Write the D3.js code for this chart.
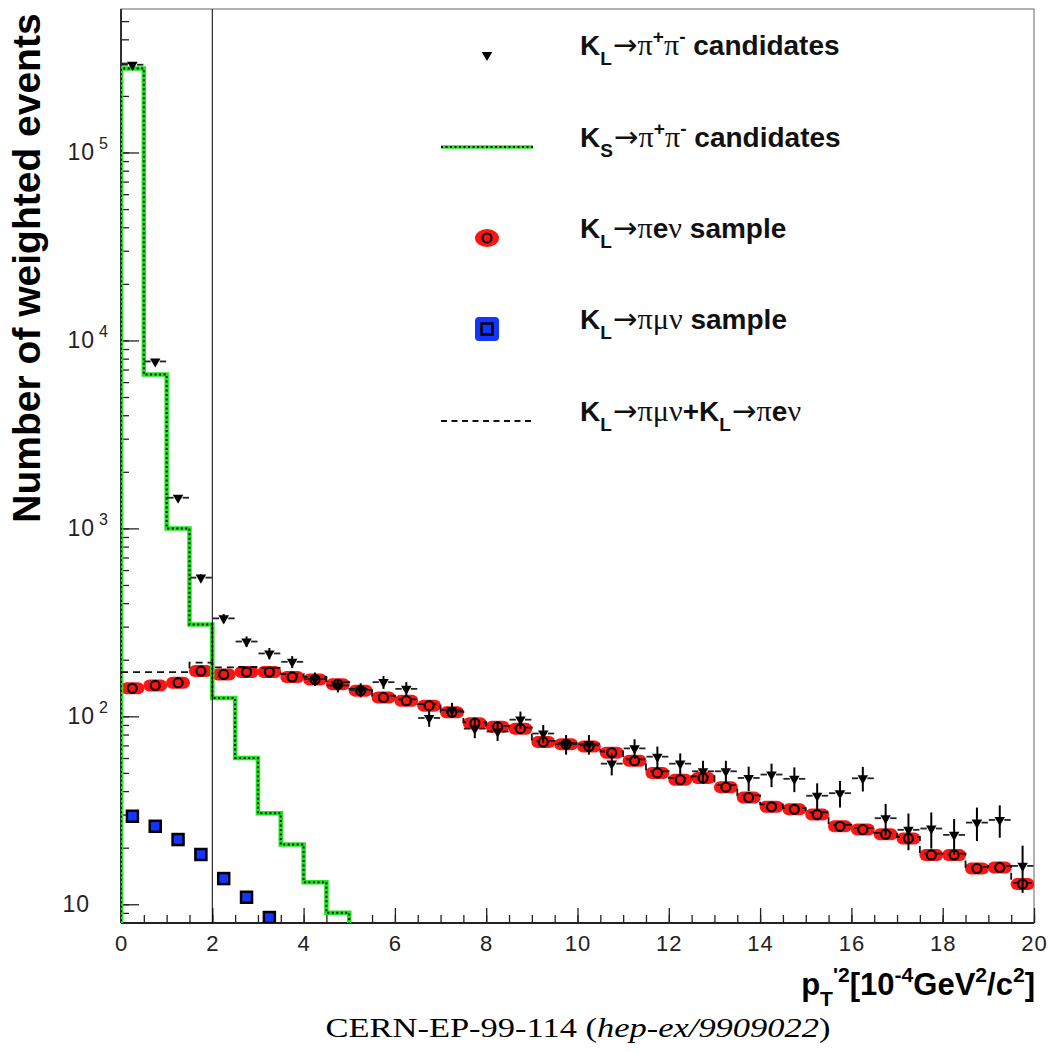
<!DOCTYPE html>
<html>
<head>
<meta charset="utf-8">
<script src="https://cdn.jsdelivr.net/npm/d3@7"></script>
<style>
body{margin:0;background:#fff}
svg{display:block}
text{white-space:pre}
</style>
</head>
<body>
<div id="root"></div>
<script>
// bin centres of the pT'^2 histogram, 0.5 wide bins from 0 to 20
const binCenters = [0.25,0.75,1.25,1.75,2.25,2.75,3.25,3.75,4.25,4.75,
    5.25,5.75,6.25,6.75,7.25,7.75,8.25,8.75,9.25,9.75,
    10.25,10.75,11.25,11.75,12.25,12.75,13.25,13.75,14.25,14.75,
    15.25,15.75,16.25,16.75,17.25,17.75,18.25,18.75,19.25,19.75]

// KL -> pi+ pi- candidates (triangles) and their errors
const klPiPi = [293000,7730,1456,547,332,250,216,195,158,146,
    138,152,140,98,108,86,83,96,81,71,
    71,56,67.5,61,56,51,51,47,49,46.5,
    37.8,39,46.8,28.7,24.9,25.3,23.4,27.2,28.1,16.0]
const klPiPiErr = [540,90,38,23,18,16,15,14,13,12,
    12,12,12,10,10,9.5,9,10,9,8.5,
    8.5,7.5,8,8,7.5,7,7,7,7,7,
    6.2,6.3,7,5.5,5.5,5.5,5,5.5,5.5,4.5]

// KL -> pi e nu sample (red)
const klPiENu = [141,146,151,174,167,172,172,162,157,148,
    137,126,121,114,105,92,88,86,73,71,
    69,64,58,50,46,47,42,37,33,32,
    30,26,25,23.6,22.4,18.3,18.3,15.5,15.7,12.8]

// KL -> pi mu nu sample (blue), only the visible bins
const klPiMuNu = [29.4,26,22.1,18.4,13.7,10.9,8.5]

// KL -> pi mu nu + KL -> pi e nu (dashed histogram)
const klSum = [172,172,172,193,182,183,181,168,162,152,
    140,129,123,116,106,93,89,87,74,72,
    70,65,59,51,47,48,43,38,34,32.5,
    30.8,26.5,25.5,24,22.8,18.6,18.6,15.8,16,13]

// KS -> pi+ pi- candidates (green histogram), bin edges and contents
const ksEdges = [0,0.5,1,1.5,2,2.5,3,3.5,4,4.5,5]
const ksPiPi = [280000,6580,1000,308,125,60,30.5,20.8,13.1,9.0]

const xTickLabels = [0,2,4,6,8,10,12,14,16,18,20]
const yMajorTicks = [10,100,1000,10000,100000]
const yTickExps = ["","2","3","4","5"]

const legendLabels = [
    [{t:"K"},{t:"L",sub:1},{t:"\u2192",arr:1},{t:"\u03c0",sym:1},{t:"+",sup:1},{t:"\u03c0",sym:1},{t:"-",sup:1},{t:" candidates"}],
    [{t:"K"},{t:"S",sub:1},{t:"\u2192",arr:1},{t:"\u03c0",sym:1},{t:"+",sup:1},{t:"\u03c0",sym:1},{t:"-",sup:1},{t:" candidates"}],
    [{t:"K"},{t:"L",sub:1},{t:"\u2192",arr:1},{t:"\u03c0",sym:1},{t:"e"},{t:"\u03bd",sym:1},{t:" sample"}],
    [{t:"K"},{t:"L",sub:1},{t:"\u2192",arr:1},{t:"\u03c0\u03bc\u03bd",sym:1},{t:" sample"}],
    [{t:"K"},{t:"L",sub:1},{t:"\u2192",arr:1},{t:"\u03c0\u03bc\u03bd",sym:1},{t:"+K"},{t:"L",sub:1},{t:"\u2192",arr:1},{t:"\u03c0",sym:1},{t:"e"},{t:"\u03bd",sym:1}]
]
const xTitle = [{t:"p"},{t:"T",sub:1},{t:"'2",sup:1},{t:"[10"},{t:"-4",sup:1},{t:"GeV"},{t:"2",sup:1},{t:"/c"},{t:"2",sup:1},{t:"]"}]

const sans = "'Liberation Sans', Arial, Helvetica, sans-serif"
const serif = "'Liberation Serif', 'Times New Roman', serif"
const green = "#1ee61e", red = "#ff1414", blue = "#1434ff"

const W = 1051, H = 1052
const m = {left:121, right:1034, top:9, bottom:923}

const svg = d3.select("#root").append("svg")
    .attr("width",W).attr("height",H)
    .style("font-family",sans)

const x = d3.scaleLinear().domain([0,20]).range([m.left,m.right])
const y = d3.scaleLog().domain([7.95,5.8e5]).range([m.bottom,m.top])

svg.append("clipPath").attr("id","plotclip")
    .append("rect")
    .attr("x",m.left).attr("y",m.top)
    .attr("width",m.right-m.left).attr("height",m.bottom-m.top)

// frame
svg.append("rect")
    .attr("x",m.left).attr("y",m.top)
    .attr("width",m.right-m.left).attr("height",m.bottom-m.top)
    .attr("fill","none").attr("stroke","#666").attr("stroke-width",1)

// y axis ticks (inside the frame)
const yMinorAxis = d3.axisRight(y).tickValues(y.ticks()).tickSize(8).tickFormat("")
const yMajorAxis = d3.axisRight(y).tickValues(yMajorTicks).tickSize(18).tickFormat("")
svg.append("g").attr("transform",`translate(${m.left},0)`).call(yMinorAxis)
svg.append("g").attr("transform",`translate(${m.left},0)`).call(yMajorAxis)

// x axis ticks (inside the frame)
const xMinorAxis = d3.axisTop(x).tickValues(x.ticks(40)).tickSize(8).tickFormat("")
const xMajorAxis = d3.axisTop(x).tickValues(xTickLabels).tickSize(15).tickFormat("")
svg.append("g").attr("transform",`translate(0,${m.bottom})`).call(xMinorAxis)
svg.append("g").attr("transform",`translate(0,${m.bottom})`).call(xMajorAxis)
svg.selectAll(".domain").remove()
svg.selectAll(".tick line").attr("stroke","#222").attr("stroke-width",1.3)

// x tick labels
const xLabelAxis = d3.axisBottom(x).tickValues(xTickLabels).tickSize(0).tickPadding(12)
const xl = svg.append("g").attr("transform",`translate(0,${m.bottom})`).call(xLabelAxis)
xl.select(".domain").remove()
xl.selectAll("text").attr("font-size",22).attr("font-family",sans)
    .attr("fill","#222").attr("letter-spacing",1)

// left and bottom axis lines
svg.append("line").attr("x1",m.left).attr("x2",m.left).attr("y1",m.top).attr("y2",m.bottom)
    .attr("stroke","#222").attr("stroke-width",1.8)
svg.append("line").attr("x1",m.left).attr("x2",m.right).attr("y1",m.bottom).attr("y2",m.bottom)
    .attr("stroke","#222").attr("stroke-width",1.8)

// y tick labels
yMajorTicks.forEach((v,i) => {
    const t = svg.append("text")
        .attr("x", yTickExps[i] ? 108 : 90)
        .attr("y", y(v) + 8)
        .attr("text-anchor","end")
        .attr("font-size",23).attr("fill","#222")
    t.append("tspan").attr("letter-spacing",1).text("10")
    if (yTickExps[i]) {
        t.append("tspan").attr("dx",4).attr("dy",-11).attr("font-size",16).text(yTickExps[i])
    }
})

function richText(sel, parts, size) {
    let cur = 0
    parts.forEach(p => {
        const shift = p.sub ? size*0.36 : (p.sup ? -size*0.42 : 0)
        const ts = sel.append("tspan")
            .attr("dy", shift-cur)
            .attr("font-size", (p.sub||p.sup) ? size*0.68 : size)
            .text(p.t)
        if (p.sym) ts.attr("font-family",serif).attr("font-weight","normal").attr("font-size",size*1.08)
        if (p.arr) ts.attr("font-family","'DejaVu Sans', sans-serif").attr("font-weight","normal")
            .attr("font-size",size*1.05).attr("dx",1)
        cur = shift
    })
}

// y title
svg.append("text")
    .attr("transform","translate(40,268) rotate(-90)")
    .attr("text-anchor","middle")
    .attr("font-size",39).attr("font-weight","bold")
    .text("Number of weighted events")

// x title
const xt = svg.append("text")
    .attr("x",1035).attr("y",995)
    .attr("text-anchor","end")
    .attr("font-weight","bold")
    .attr("font-size",31)
richText(xt, xTitle, 31)

// caption
const cap = svg.append("text")
    .attr("x",578).attr("y",1037)
    .attr("text-anchor","middle")
    .attr("font-family",serif).attr("font-size",28)
    .attr("textLength",505).attr("lengthAdjust","spacingAndGlyphs")
cap.append("tspan").text("CERN-EP-99-114 (")
cap.append("tspan").attr("font-style","italic").text("hep-ex/9909022")
cap.append("tspan").text(")")

// data layer
const plot = svg.append("g").attr("clip-path","url(#plotclip)")

const stepLine = d3.line().x(d => x(d.x)).y(d => y(d.v)).curve(d3.curveStepAfter)

// red KL -> pi e nu band and markers
function redRing(g, cx, cy) {
    g.append("circle").attr("cx",cx).attr("cy",cy).attr("r",4.5)
        .attr("fill",red).attr("stroke","#000").attr("stroke-width",2.2)
}
plot.append("g").selectAll("line").data(klPiENu).join("line")
    .attr("x1",(d,i) => x(binCenters[i]-0.13))
    .attr("x2",(d,i) => x(binCenters[i]+0.13))
    .attr("y1",d => y(d)).attr("y2",d => y(d))
    .attr("stroke",red).attr("stroke-width",12).attr("stroke-linecap","round")

// blue KL -> pi mu nu squares
function blueSquare(g, cx, cy) {
    g.append("rect").attr("x",cx-5.5).attr("y",cy-5.5).attr("width",11).attr("height",11)
        .attr("fill",blue).attr("stroke","#000").attr("stroke-width",2.5)
}
const blueG = plot.append("g")
klPiMuNu.forEach((v,i) => blueSquare(blueG, x(binCenters[i]), y(v)))

// green KS histogram with dotted black overlay
const ksPts = [{x:ksEdges[0], v:1}]
    .concat(ksPiPi.map((v,i) => ({x:ksEdges[i], v:v})))
    .concat([{x:ksEdges[ksEdges.length-1], v:ksPiPi[ksPiPi.length-1]}, {x:ksEdges[ksEdges.length-1], v:1}])
plot.append("path").attr("d",stepLine(ksPts))
    .attr("fill","none").attr("stroke",green).attr("stroke-width",4.5)
plot.append("path").attr("d",stepLine(ksPts))
    .attr("fill","none").attr("stroke","#111").attr("stroke-width",2)
    .attr("stroke-dasharray","2,2.5")

// dashed sum histogram
const sumPts = klSum.map((v,i) => ({x:binCenters[i]-0.25, v:v}))
    .concat([{x:binCenters[binCenters.length-1]+0.25, v:klSum[klSum.length-1]}])
plot.append("path").attr("d",stepLine(sumPts))
    .attr("fill","none").attr("stroke","#111").attr("stroke-width",1.8)
    .attr("stroke-dasharray","7,5")

// red rings on top
const ringG = plot.append("g")
klPiENu.forEach((v,i) => redRing(ringG, x(binCenters[i]), y(v)))

// KL -> pi+ pi- triangles with error bars
const tri = d3.symbol(d3.symbolTriangle, 48)
function triMarker(g, cx, cy) {
    g.append("path").attr("d",tri()).attr("fill","#000")
        .attr("transform",`translate(${cx},${cy}) rotate(180)`)
}
const triG = plot.append("g")
klPiPi.forEach((v,i) => {
    const c = binCenters[i]
    triG.append("line").attr("x1",x(c)).attr("x2",x(c))
        .attr("y1",y(v-klPiPiErr[i])).attr("y2",y(v+klPiPiErr[i]))
        .attr("stroke","#000").attr("stroke-width",2)
    ;[[c-0.24,c-0.1],[c+0.1,c+0.24]].forEach(s => {
        triG.append("line").attr("x1",x(s[0])).attr("x2",x(s[1]))
            .attr("y1",y(v)).attr("y2",y(v))
            .attr("stroke","#222").attr("stroke-width",1.8)
    })
    triMarker(triG, x(c), y(v))
})

// cut line at pT'^2 = 2
svg.append("line").attr("x1",x(2)).attr("x2",x(2)).attr("y1",m.top).attr("y2",m.bottom)
    .attr("stroke","#000").attr("stroke-width",1)

// legend
const leg = svg.append("g")
const legRows = [55,147,238,329,421]
const mx = 487
triMarker(leg, mx, legRows[0])
leg.append("line").attr("x1",441).attr("x2",533).attr("y1",legRows[1]).attr("y2",legRows[1])
    .attr("stroke",green).attr("stroke-width",3.5)
leg.append("line").attr("x1",441).attr("x2",533).attr("y1",legRows[1]).attr("y2",legRows[1])
    .attr("stroke","#111").attr("stroke-width",1.8).attr("stroke-dasharray","2,2.5")
leg.append("ellipse").attr("cx",mx).attr("cy",legRows[2]).attr("rx",12).attr("ry",9).attr("fill",red)
redRing(leg, mx, legRows[2])
leg.append("rect").attr("x",mx-12).attr("y",legRows[3]-12).attr("width",24).attr("height",24)
    .attr("rx",4).attr("fill",blue)
blueSquare(leg, mx, legRows[3])
leg.append("line").attr("x1",441).attr("x2",533).attr("y1",legRows[4]).attr("y2",legRows[4])
    .attr("stroke","#111").attr("stroke-width",2).attr("stroke-dasharray","6,4.5")

legendLabels.forEach((parts,i) => {
    const t = leg.append("text").attr("x",580).attr("y",legRows[i])
        .attr("font-weight","bold").attr("font-size",28).attr("fill","#111")
    richText(t, parts, 28)
})
</script>
</body>
</html>
